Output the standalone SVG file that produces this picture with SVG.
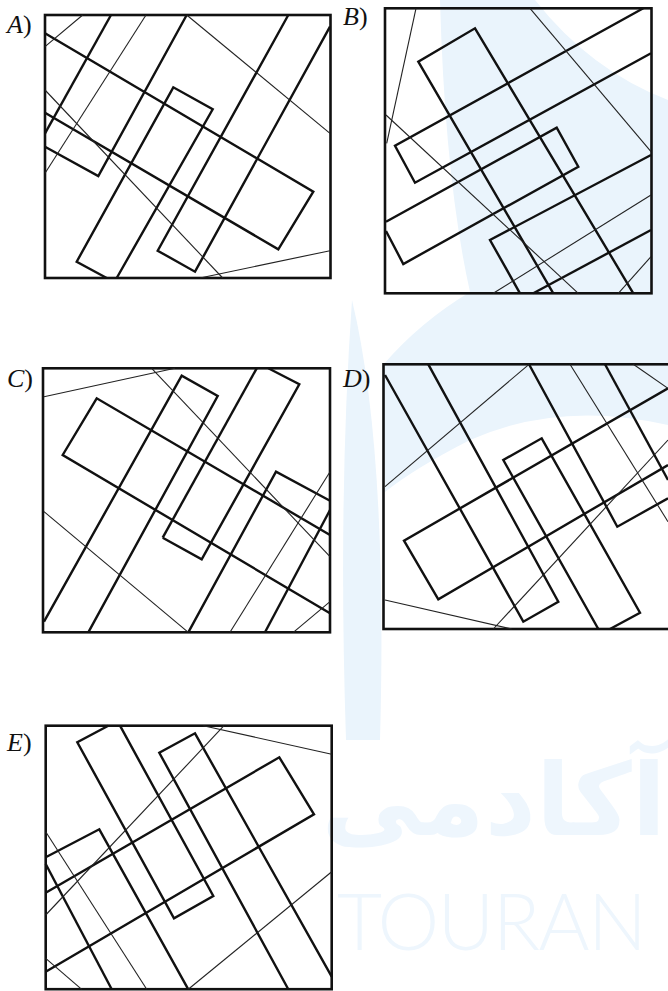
<svg xmlns="http://www.w3.org/2000/svg" width="668" height="991" viewBox="0 0 668 991">
<style>
.bx{fill:none;stroke:#111;stroke-width:2.6}
.th{fill:none;stroke:#111;stroke-width:2.4;stroke-linejoin:miter}
.tn{fill:none;stroke:#222;stroke-width:1.1}
.lb{font-family:"Liberation Serif","DejaVu Serif",serif;font-size:26px;fill:#111}
.wm{fill:#eaf4fc;stroke:none}
</style>
<rect width="668" height="991" fill="#fff"/>
<g id="watermark">
<path class="wm" d="M440,0 L535,0 Q590,70 668,100 L668,425 Q560,400 470,440 Q415,468 385,492 L383,365 Q420,322 470,292 Q445,180 440,0 Z"/>
<path class="wm" d="M352,300 Q388,450 380,740 L346,740 Q338,500 352,300 Z"/>
<text x="337" y="950" textLength="310" lengthAdjust="spacing" font-family="Lato,'Open Sans',sans-serif" font-weight="300" font-size="78" fill="#eef6fd">TOURAN</text>
<text x="666" y="835" text-anchor="end" font-family="'DejaVu Sans',sans-serif" font-weight="bold" font-size="100" fill="#eef6fd">آکادمی</text>
</g>
<g id="panelA">
<text class="lb" x="7" y="33"><tspan font-style="italic">A</tspan>)</text>
<rect class="bx" x="45" y="15" width="285.5" height="263"/>
<g class="connectors">
<path class="th" d="M111,15 L45,133.3"/>
<path class="th" d="M45,33.3 L313.3,191.7 L278.3,249.3 L45,112.7"/>
<path class="th" d="M45,146.7 L98.3,176 L186.7,15"/>
<path class="th" d="M116.7,278 L212.7,109.3 L173.3,87.3 L76.7,261.7 L106.7,278"/>
<path class="th" d="M288.3,15 L157.7,250.7 L195,271.7 L330,26.7"/>
<path class="tn" d="M45,46.7 L82.7,15"/>
<path class="tn" d="M146,15 L45,173.3"/>
<path class="tn" d="M186.7,15 L330,133.3"/>
<path class="tn" d="M45,90 L222.7,278"/>
<path class="tn" d="M200,278 L330,250.7"/>
</g>
</g>
<g id="panelB">
<text class="lb" x="343" y="25"><tspan font-style="italic">B</tspan>)</text>
<rect class="bx" x="385" y="8.3" width="266.5" height="285"/>
<g class="connectors">
<path class="th" d="M553.3,293.3 L418.3,61.7 L475,28.3 L633.3,293.3"/>
<path class="th" d="M643.3,8.3 L395,145.7 L415,182.7 L651,53.3"/>
<path class="th" d="M386,221.7 L556.7,127.7 L578.3,166.7 L403.3,264 L386,231"/>
<path class="th" d="M651,155 L490,240 L520,293.3"/>
<path class="th" d="M533.3,293.3 L651,230"/>
<path class="tn" d="M416,8.3 L386.7,143.3"/>
<path class="tn" d="M530,8.3 L651,151.7"/>
<path class="tn" d="M386,115 L578.3,293.3"/>
<path class="tn" d="M493.3,293.3 L651,195"/>
<path class="tn" d="M618.3,293.3 L651,256.7"/>
</g>
</g>
<g id="panelC">
<text class="lb" x="7" y="387"><tspan font-style="italic">C</tspan>)</text>
<rect class="bx" x="43" y="368.3" width="287" height="264"/>
<g class="connectors">
<path class="th" d="M44,621.7 L181.7,375.7 L217.7,396 L88.3,632.3"/>
<path class="th" d="M162.7,537.7 L256.7,368.3"/>
<path class="th" d="M162.7,537.7 L201.7,559.3 L299.3,384.3 L268.3,368.3"/>
<path class="th" d="M330,535 L96.7,398.3 L62.7,455 L330,613.3"/>
<path class="th" d="M330,500.7 L276,471.7 L188.3,632.3"/>
<path class="th" d="M330,510 L265,632.3"/>
<path class="tn" d="M44,396.7 L175,368.3"/>
<path class="tn" d="M151.7,368.3 L330,556.7"/>
<path class="tn" d="M44,511.7 L188.3,632.3"/>
<path class="tn" d="M230,632.3 L330,471.7"/>
<path class="tn" d="M293.3,632.3 L330,601.7"/>
</g>
</g>
<g id="panelD">
<text class="lb" x="343" y="387"><tspan font-style="italic">D</tspan>)</text>
<rect class="bx" x="383.5" y="364.3" width="300" height="264.7"/>
<g class="connectors">
<path class="th" d="M385,375 L523.3,621.7 L558.3,601.7 L428.3,364.3"/>
<path class="th" d="M598.3,629 L503.3,460 L541.7,438.3 L640,612.7 L610,629"/>
<path class="th" d="M529,364.3 L617.3,526.7 L668,498.3"/>
<path class="th" d="M605,364.3 L668,480"/>
<path class="th" d="M668,388.3 L404,540.7 L438.3,599.3 L668,465"/>
<path class="tn" d="M385,486.7 L529,364.3"/>
<path class="tn" d="M570,364.3 L668,521.7"/>
<path class="tn" d="M633.3,364.3 L668,388.3"/>
<path class="tn" d="M385,600 L511.7,629"/>
<path class="tn" d="M493.3,629 L668,440"/>
</g>
</g>
<g id="panelE">
<text class="lb" x="7" y="751"><tspan font-style="italic">E</tspan>)</text>
<rect class="bx" x="45.7" y="725.7" width="286" height="263.5"/>
<g class="connectors">
<path class="th" d="M108.3,725.7 L77.3,742.3 L174,918.3 L213.3,896 L120,725.7"/>
<path class="th" d="M288.3,989.3 L159.3,752.7 L195,733.3 L331.7,976.7"/>
<path class="th" d="M45.7,892.7 L279.3,757.3 L314,814.3 L45.7,971.7"/>
<path class="th" d="M45.7,857.3 L99.3,829.3 L188.3,989.3"/>
<path class="th" d="M45.7,864 L111.7,989.3"/>
<path class="tn" d="M203.3,725.7 L331.7,754.3"/>
<path class="tn" d="M224,725.7 L45.7,915"/>
<path class="tn" d="M45.7,831.7 L146.7,989.3"/>
<path class="tn" d="M45.7,958.3 L81.7,989.3"/>
<path class="tn" d="M188.3,989.3 L331.7,871.7"/>
</g>
</g>
</svg>
